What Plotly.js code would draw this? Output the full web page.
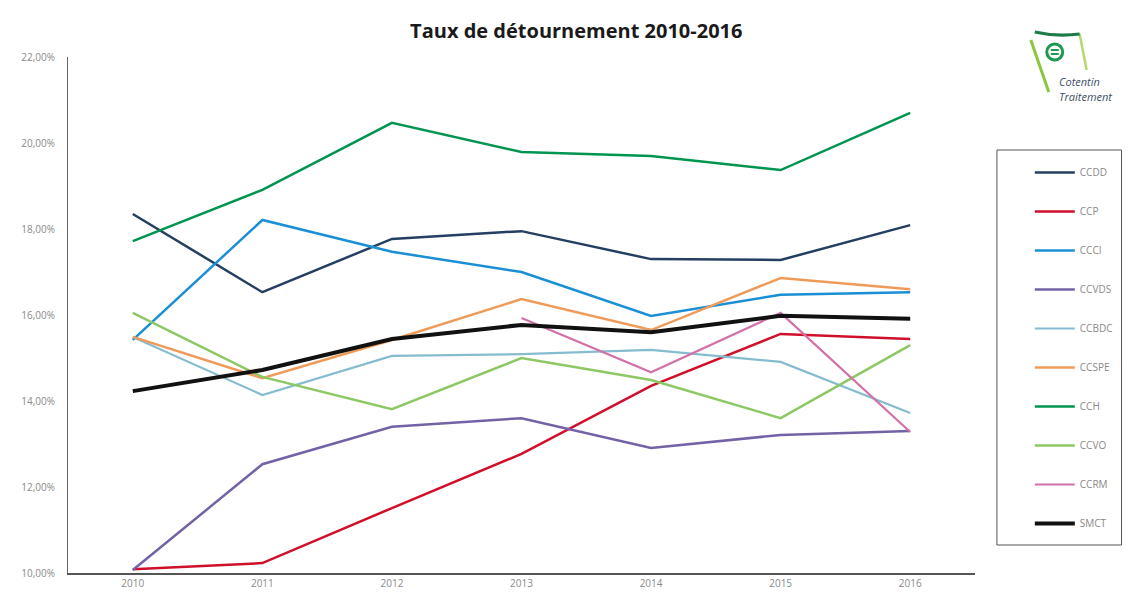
<!DOCTYPE html>
<html>
<head>
<meta charset="utf-8">
<script src="https://cdn.plot.ly/plotly-3.0.1.min.js"></script>
<style>html,body{margin:0;padding:0;background:#fff;}#chart{width:1130px;height:601px;}</style>
</head>
<body>
<div id="chart"></div>
<script>
const years = ['2010','2011','2012','2013','2014','2015','2016'];
const seriesNames = ['CCDD','CCP','CCCI','CCVDS','CCBDC','CCSPE','CCH','CCVO','CCRM','SMCT'];
const CCDD  = [18.35, 16.53, 17.77, 17.95, 17.30, 17.28, 18.09];
const CCP   = [10.09, 10.23, 11.51, 12.77, 14.35, 15.56, 15.44];
const CCCI  = [15.42, 18.21, 17.47, 17.00, 15.98, 16.47, 16.53];
const CCVDS = [10.07, 12.53, 13.40, 13.60, 12.91, 13.21, 13.30];
const CCBDC = [15.49, 14.14, 15.05, 15.09, 15.19, 14.91, 13.72];
const CCSPE = [15.49, 14.53, 15.42, 16.37, 15.65, 16.86, 16.60];
const CCH   = [17.72, 18.91, 20.47, 19.79, 19.70, 19.37, 20.70];
const CCVO  = [16.05, 14.56, 13.81, 15.00, 14.49, 13.60, 15.30];
const CCRM  = [null, null, null, 15.93, 14.67, 16.05, 13.28];
const SMCT  = [14.23, 14.72, 15.44, 15.77, 15.60, 15.98, 15.91];
const yTicks = [10, 12, 14, 16, 18, 20, 22];
const yTickText = ['10,00%', '12,00%', '14,00%', '16,00%', '18,00%', '20,00%', '22,00%'];

const values = [CCDD, CCP, CCCI, CCVDS, CCBDC, CCSPE, CCH, CCVO, CCRM, SMCT];
const colors = ['#243F62', '#D0102A', '#1B8FD6', '#7462A6', '#86BCD0', '#EE9B5A', '#00954F', '#8DC865', '#D271A8', '#111111'];
const widths = [2.5, 2.5, 2.5, 2.5, 2.2, 2.5, 2.5, 2.5, 2.2, 4];

const traces = seriesNames.map((n, i) => ({
  type: 'scatter', mode: 'lines', name: n, x: years, y: values[i],
  line: {color: colors[i], width: widths[i]}, legendgroup: n,
  connectgaps: false, hoverinfo: 'x+y+name'
}));

function px(x){ return (x - 68) / 910; }
function py(y){ return (573 - y) / 516; }

const layout = {
  width: 1130, height: 601,
  margin: {l: 68, r: 152, t: 57, b: 28},
  paper_bgcolor: '#ffffff', plot_bgcolor: '#ffffff',
  font: {family: 'Open Sans, Liberation Sans, sans-serif', color: '#8a8a8a'},
  title: {text: '<b>Taux de détournement 2010-2016</b>', x: 0.51, xanchor: 'center', y: 0.948, yanchor: 'middle',
          font: {size: 20, color: '#1a1a1a', family: 'Open Sans, Liberation Sans, sans-serif'}},
  xaxis: {type: 'category', range: [-0.5, 6.5], showgrid: false, zeroline: false,
          showline: true, linecolor: '#555', linewidth: 1.5, ticks: '',
          tickfont: {size: 10, color: '#8a8a8a'}, fixedrange: true},
  yaxis: {range: [10, 22], tickmode: 'array', tickvals: yTicks, ticktext: yTickText, showgrid: false, zeroline: false,
          showline: true, linecolor: '#666', linewidth: 1, ticks: '', ticklabelstandoff: 10,
          tickfont: {size: 10, color: '#8a8a8a'}, fixedrange: true},
  showlegend: true,
  legend: {x: px(1033), xanchor: 'left', y: py(158), yanchor: 'top', borderwidth: 0,
           bgcolor: 'rgba(0,0,0,0)', font: {size: 10, color: '#8a8a8a'}, traceorder: 'grouped', tracegroupgap: 20,
           itemwidth: 40},
  annotations: [
    {xref: 'paper', yref: 'paper', x: px(1060), y: py(82), text: '<i>Cotentin</i>', showarrow: false, xanchor: 'left', yanchor: 'middle',
     font: {size: 11, color: '#3d4f66'}},
    {xref: 'paper', yref: 'paper', x: px(1060), y: py(96), text: '<i>Traitement</i>', showarrow: false, xanchor: 'left', yanchor: 'middle',
     font: {size: 11, color: '#3d4f66'}}
  ],
  shapes: [
    {type: 'rect', xref: 'paper', yref: 'paper', x0: px(1000), y0: py(150), x1: px(1125), y1: py(545),
     line: {color: '#555', width: 1}, fillcolor: 'rgba(0,0,0,0)'},
    {type: 'line', xref: 'paper', yref: 'paper', x0: px(1034), y0: py(40), x1: px(1052), y1: py(92), line: {color: '#8cc63f', width: 3}},
    {type: 'line', xref: 'paper', yref: 'paper', x0: px(1083), y0: py(34), x1: px(1090), y1: py(70), line: {color: '#b5d96a', width: 2.5}},
    {type: 'path', xref: 'paper', yref: 'paper', path: 'M ' + px(1038) + ',' + py(32) + ' Q ' + px(1060) + ',' + py(37) + ' ' + px(1083) + ',' + py(34),
     line: {color: '#1f7a4a', width: 3}},
    {type: 'circle', xref: 'paper', yref: 'paper', x0: px(1050), y0: py(44), x1: px(1066), y1: py(60), line: {color: '#1f9a52', width: 3}},
    {type: 'path', xref: 'paper', yref: 'paper', path: 'M ' + px(1054) + ',' + py(50) + ' L ' + px(1062) + ',' + py(50) + ' M ' + px(1054) + ',' + py(54) + ' L ' + px(1062) + ',' + py(54),
     line: {color: '#1f9a52', width: 2}}
  ]
};

Plotly.newPlot('chart', traces, layout, {displayModeBar: false, staticPlot: true});
</script>
</body>
</html>
